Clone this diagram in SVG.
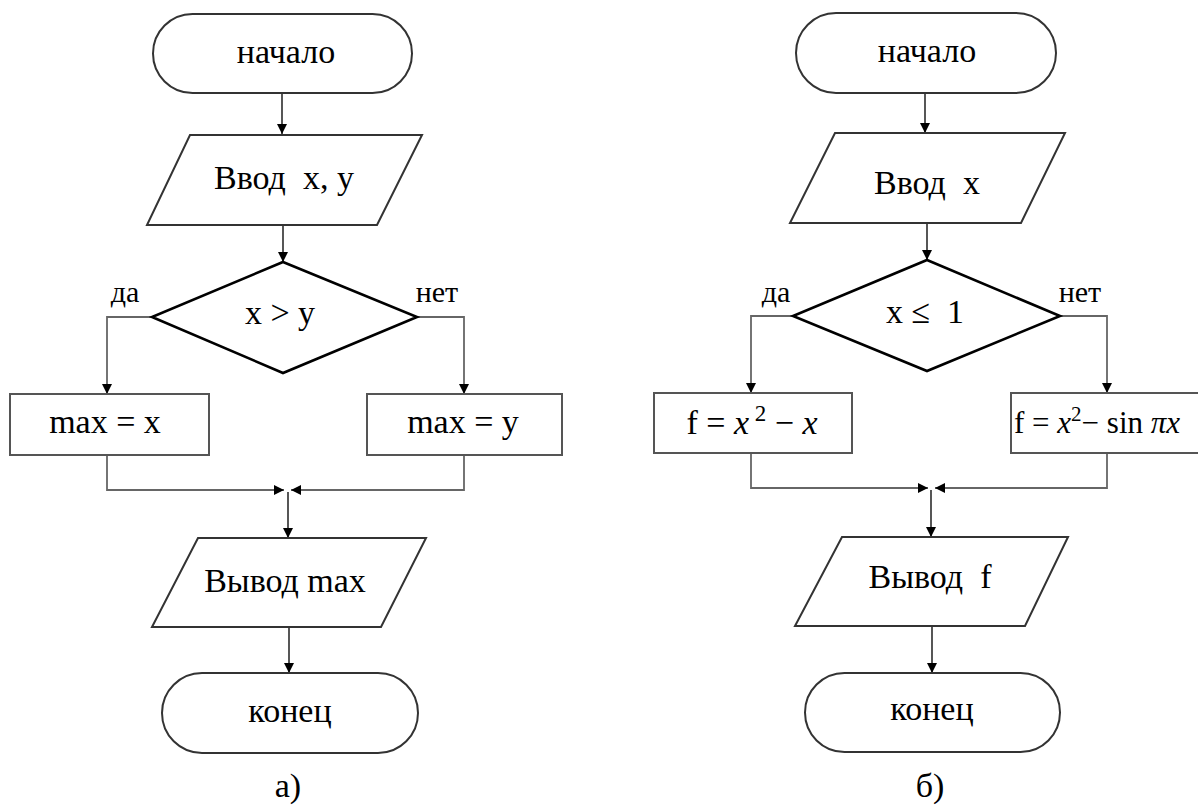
<svg xmlns="http://www.w3.org/2000/svg" width="1198" height="807" viewBox="0 0 1198 807">
<style>
  text { font-family: "Liberation Serif", "Times New Roman", serif; fill: #000; white-space: pre; }
  .t { font-size: 34px; text-anchor: middle; }
  .ts { font-size: 31px; text-anchor: start; }
  .lbl { font-size: 30px; text-anchor: middle; }
  .cap { font-size: 34px; text-anchor: middle; }
  .term { fill: #fff; stroke: #333; stroke-width: 2; }
  .para { fill: #fff; stroke: #333; stroke-width: 2; }
  .dia { fill: #fff; stroke: #000; stroke-width: 2.6; }
  .box { fill: #fff; stroke: #555; stroke-width: 2; }
  .c { fill: none; stroke: #444; stroke-width: 1.8; }
  .cg { fill: none; stroke: #666; stroke-width: 1.8; }
  .it { font-style: italic; }
</style>
<defs>
  <marker id="ah" viewBox="0 0 10 10" refX="10" refY="5" markerWidth="10" markerHeight="10" markerUnits="userSpaceOnUse" orient="auto">
    <path d="M0,0 L10,5 L0,10 z" fill="#000"/>
  </marker>
</defs>

<g id="connectors">
  <!-- left diagram -->
  <line class="c" x1="282" y1="93" x2="282" y2="134" marker-end="url(#ah)"/>
  <line class="c" x1="283" y1="225" x2="283" y2="262" marker-end="url(#ah)"/>
  <polyline class="cg" points="152,317 107,317 107,394" marker-end="url(#ah)"/>
  <polyline class="cg" points="417,317 464,317 464,394" marker-end="url(#ah)"/>
  <polyline class="cg" points="107,455 107,490 284,490" marker-end="url(#ah)"/>
  <polyline class="cg" points="464,455 464,490 291,490" marker-end="url(#ah)"/>
  <line class="c" x1="288" y1="492" x2="288" y2="538" marker-end="url(#ah)"/>
  <line class="c" x1="289" y1="627" x2="289" y2="673" marker-end="url(#ah)"/>
  <!-- right diagram -->
  <line class="c" x1="925" y1="93" x2="925" y2="133" marker-end="url(#ah)"/>
  <line class="c" x1="927" y1="223" x2="927" y2="260" marker-end="url(#ah)"/>
  <polyline class="cg" points="793,316 751,316 751,393" marker-end="url(#ah)"/>
  <polyline class="cg" points="1060,316 1107,316 1107,393" marker-end="url(#ah)"/>
  <polyline class="cg" points="751,453 751,488 928,488" marker-end="url(#ah)"/>
  <polyline class="cg" points="1107,453 1107,488 935,488" marker-end="url(#ah)"/>
  <line class="c" x1="931" y1="490" x2="931" y2="537" marker-end="url(#ah)"/>
  <line class="c" x1="932" y1="626" x2="932" y2="673" marker-end="url(#ah)"/>
</g>

<!-- left diagram (а) -->
<g id="a-start">
  <rect class="term" x="153" y="14" width="259" height="79" rx="39.5"/>
  <text class="t" x="286" y="63">начало</text>
</g>
<g id="a-input">
  <polygon class="para" points="190,135 422,135 377,225 147,225"/>
  <text class="t" x="284" y="189">Ввод  x, y</text>
</g>
<g id="a-cond">
  <polygon class="dia" points="283,262 417,317 283,373 152,317"/>
  <text class="t" x="280" y="324">x &gt; y</text>
</g>
<g id="a-yes"><text class="lbl" x="125" y="302">да</text></g>
<g id="a-no"><text class="lbl" x="437" y="302">нет</text></g>
<g id="a-maxx">
  <rect class="box" x="10" y="394" width="199" height="61"/>
  <text class="t" x="105" y="433">max = x</text>
</g>
<g id="a-maxy">
  <rect class="box" x="367" y="394" width="195" height="61"/>
  <text class="t" x="463" y="433">max = y</text>
</g>
<g id="a-output">
  <polygon class="para" points="198,538 426,538 381,627 152,627"/>
  <text class="t" x="285" y="592">Вывод max</text>
</g>
<g id="a-end">
  <rect class="term" x="162" y="673" width="256" height="80" rx="40"/>
  <text class="t" x="290" y="722">конец</text>
</g>
<g id="a-caption"><text class="cap" x="288" y="797">а)</text></g>

<!-- right diagram (б) -->
<g id="b-start">
  <rect class="term" x="796" y="13" width="260" height="80" rx="40"/>
  <text class="t" x="927" y="62">начало</text>
</g>
<g id="b-input">
  <polygon class="para" points="835,133 1065,133 1021,223 790,223"/>
  <text class="t" x="927" y="194">Ввод  x</text>
</g>
<g id="b-cond">
  <polygon class="dia" points="927,260 1060,316 927,371 793,316"/>
  <text class="t" x="925" y="323">x ≤  1</text>
</g>
<g id="b-yes"><text class="lbl" x="776" y="302">да</text></g>
<g id="b-no"><text class="lbl" x="1080" y="302">нет</text></g>
<g id="b-f1">
  <rect class="box" x="654" y="393" width="198" height="60"/>
  <text class="t" x="752" y="434">f = <tspan class="it">x</tspan><tspan font-size="23" dy="-13"> 2</tspan><tspan dy="13"> − </tspan><tspan class="it">x</tspan></text>
</g>
<g id="b-f2">
  <rect class="box" x="1011" y="393" width="200" height="60"/>
  <text class="ts" x="1014" y="433">f = <tspan class="it">x</tspan><tspan font-size="21" dy="-12">2</tspan><tspan dy="12">− sin </tspan><tspan class="it">πx</tspan></text>
</g>
<g id="b-output">
  <polygon class="para" points="842,537 1068,537 1025,626 795,626"/>
  <text class="t" x="930" y="588">Вывод  f</text>
</g>
<g id="b-end">
  <rect class="term" x="805" y="673" width="255" height="79" rx="39.5"/>
  <text class="t" x="932" y="720">конец</text>
</g>
<g id="b-caption"><text class="cap" x="930" y="797">б)</text></g>
</svg>
